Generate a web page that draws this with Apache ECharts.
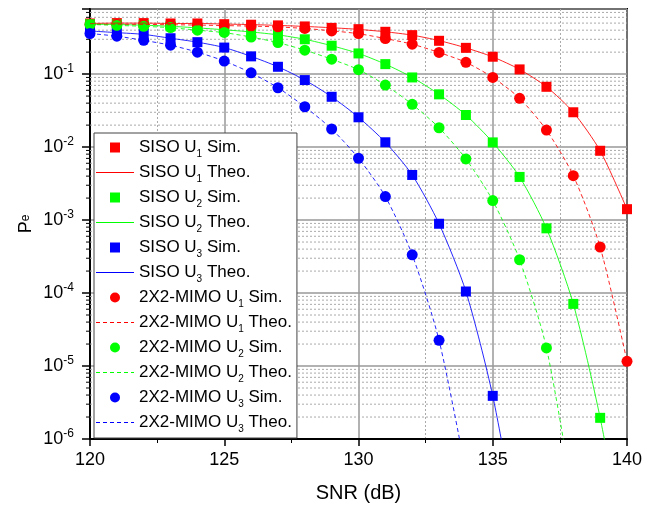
<!DOCTYPE html>
<html>
<head>
<meta charset="utf-8">
<script src="https://cdn.jsdelivr.net/npm/echarts@6/dist/echarts.min.js"></script>
<style>
    html, body { margin: 0; padding: 0; background: #fff; }
    #chart { width: 653px; height: 508px; }
</style>
</head>
<body>
<div id="chart"></div>
<script>
// SNR 轴
const snr = [120, 121, 122, 123, 124, 125, 126, 127, 128, 129, 130, 131, 132, 133, 134, 135, 136, 137, 138, 139, 140];

// SISO 仿真 / 理论
const siso1Sim = [0.494, 0.50, 0.50, 0.494, 0.494, 0.483, 0.475, 0.465, 0.45, 0.43, 0.413, 0.38, 0.342, 0.286, 0.229, 0.173, 0.116, 0.067, 0.030, 0.0089, 0.00141];
const siso1Theo = [0.494, 0.50, 0.50, 0.494, 0.494, 0.485, 0.477, 0.465, 0.45, 0.432, 0.41, 0.38, 0.342, 0.288, 0.229, 0.172, 0.116, 0.067, 0.030, 0.0089, 0.00141];
const siso2Sim = [0.483, 0.478, 0.468, 0.452, 0.43, 0.405, 0.378, 0.345, 0.30, 0.245, 0.192, 0.137, 0.090, 0.0528, 0.0275, 0.0116, 0.0039, 7.7e-4, 7.1e-5, 1.95e-6, null];
const siso2Theo = [0.483, 0.478, 0.468, 0.452, 0.43, 0.405, 0.378, 0.345, 0.30, 0.245, 0.192, 0.137, 0.090, 0.0528, 0.0275, 0.0116, 0.0039, 7.7e-4, 7.1e-5, 1.95e-6, 2e-8];
const siso3Sim = [0.39, 0.37, 0.356, 0.31, 0.274, 0.231, 0.175, 0.126, 0.0828, 0.0489, 0.0256, 0.01164, 0.00415, 8.9e-4, 1.05e-4, 3.9e-6, null, null, null, null, null];
const siso3Theo = [0.39, 0.37, 0.35, 0.31, 0.274, 0.231, 0.175, 0.126, 0.0828, 0.0489, 0.0256, 0.01164, 0.00415, 8.9e-4, 1.05e-4, 3.9e-6, 4e-8, null, null, null, null];

// 2X2-MIMO 仿真 / 理论
const mimo1Sim = [0.483, 0.483, 0.48, 0.475, 0.47, 0.462, 0.455, 0.445, 0.422, 0.39, 0.36, 0.307, 0.257, 0.198, 0.145, 0.090, 0.0466, 0.0171, 0.00406, 4.26e-4, 1.16e-5];
const mimo1Theo = [0.483, 0.483, 0.48, 0.475, 0.47, 0.462, 0.455, 0.443, 0.422, 0.392, 0.358, 0.307, 0.257, 0.198, 0.145, 0.090, 0.0466, 0.0171, 0.00406, 4.26e-4, 1.16e-5];
const mimo2Sim = [0.48, 0.465, 0.452, 0.435, 0.40, 0.372, 0.322, 0.27, 0.213, 0.16, 0.115, 0.0707, 0.0385, 0.0184, 0.00687, 0.00185, 2.86e-4, 1.77e-5, null, null, null];
const mimo2Theo = [0.48, 0.465, 0.452, 0.432, 0.40, 0.37, 0.322, 0.27, 0.213, 0.16, 0.115, 0.0707, 0.0385, 0.0184, 0.00687, 0.00185, 2.86e-4, 1.77e-5, 1.5e-7, null, null];
const mimo3Sim = [0.36, 0.331, 0.29, 0.249, 0.20, 0.151, 0.104, 0.065, 0.0357, 0.0177, 0.00703, 0.0021, 3.34e-4, 2.25e-5, null, null, null, null, null, null, null];
const mimo3Theo = [0.36, 0.331, 0.29, 0.249, 0.20, 0.151, 0.104, 0.065, 0.0357, 0.0177, 0.00703, 0.0021, 3.34e-4, 2.25e-5, 3.5e-7, null, null, null, null, null, null];

// 纵轴刻度(10 的幂)和次刻度倍数
const yDecades = [-6, -5, -4, -3, -2, -1];
const minorMultipliers = [2, 3, 4, 5, 6, 7, 8, 9];

const RED = '#ff0000', GREEN = '#00ff00', BLUE = '#0000ff';
const FONT = 'Liberation Sans, Arial, sans-serif';

// 图例图标:两侧的零面积三角形把包围盒撑到 38x10
const BOX = 'M0,0L0,10L0,0ZM38,0L38,10L38,0Z';
const ICON_SQUARE = 'path://' + BOX + 'M14,0h10v10h-10Z';
const ICON_SOLID = 'path://' + BOX + 'M0,4.5h38v1h-38Z';
const ICON_DASH = 'path://' + BOX + 'M0,4.5h4v1h-4ZM7,4.5h4v1h-4ZM14,4.5h4v1h-4ZM21,4.5h4v1h-4ZM28,4.5h4v1h-4ZM35,4.5h3v1h-3Z';

function pairs(vals) {
    return snr.map(function (x, i) { return [x, vals[i]]; });
}

// 对数轴次网格线的位置
let minorValues = [];
yDecades.forEach(function (d) {
    minorMultipliers.forEach(function (m) {
        let v = m * Math.pow(10, d);
        if (v < 0.78) minorValues.push([120, v]);
    });
});

function sim(name, vals, color, symbol) {
    return {
        name: name, type: 'scatter', data: pairs(vals),
        symbol: symbol, symbolSize: symbol === 'rect' ? 10 : 11,
        itemStyle: { color: color, opacity: 1 }
    };
}
function theo(name, vals, color, dashed) {
    return {
        name: name, type: 'line', data: pairs(vals),
        symbol: 'none', smooth: 0.25,
        lineStyle: { color: color, width: 1, type: dashed ? [4, 3] : 'solid', opacity: 0.85 },
        itemStyle: { color: color }
    };
}

const names = [
    'SISO U1 Sim.', 'SISO U1 Theo.', 'SISO U2 Sim.', 'SISO U2 Theo.', 'SISO U3 Sim.', 'SISO U3 Theo.',
    '2X2-MIMO U1 Sim.', '2X2-MIMO U1 Theo.', '2X2-MIMO U2 Sim.', '2X2-MIMO U2 Theo.', '2X2-MIMO U3 Sim.', '2X2-MIMO U3 Theo.'
];
const legendIcons = [
    ICON_SQUARE, ICON_SOLID, ICON_SQUARE, ICON_SOLID, ICON_SQUARE, ICON_SOLID,
    'circle', ICON_DASH, 'circle', ICON_DASH, 'circle', ICON_DASH
];

let myChart = echarts.init(document.getElementById('chart'));
let option = {
    backgroundColor: '#fff',
    animation: false,
    textStyle: { fontFamily: FONT },
    grid: {
        left: 90, right: 26, top: 9, bottom: 69,
        show: true, borderColor: '#000', borderWidth: 2
    },
    legend: {
        orient: 'vertical',
        left: 94, top: 133,
        data: names.map(function (n, i) {
            return { name: n, icon: legendIcons[i], itemStyle: { opacity: 1 } };
        }),
        selectedMode: false,
        itemWidth: 38, itemHeight: 10, itemGap: 5,
        padding: [6, 5, 4, 2],
        backgroundColor: '#fff',
        borderColor: '#444', borderWidth: 1, borderRadius: 0,
        formatter: function (name) {
            return name.replace(/^(.*U)(\d)(.*)$/, '{t|$1}{s|$2}{t|$3}');
        },
        textStyle: {
            color: '#000', fontSize: 17, fontFamily: FONT,
            rich: {
                t: { fontSize: 17, lineHeight: 23, color: '#000', fontFamily: FONT },
                s: { fontSize: 10, lineHeight: 6, verticalAlign: 'bottom', color: '#000', fontFamily: FONT }
            }
        }
    },
    xAxis: {
        type: 'value', min: 120, max: 140, interval: 5,
        axisLine: { lineStyle: { color: '#000', width: 2 } },
        axisTick: { show: true, length: 7, lineStyle: { color: '#000', width: 1.5 } },
        minorTick: { show: true, splitNumber: 2, length: 4, lineStyle: { color: '#000', width: 1 } },
        splitLine: { show: true, lineStyle: { color: '#999', width: 1.5 } },
        minorSplitLine: { show: true, lineStyle: { color: '#aaa', width: 1, type: [2, 2] } },
        axisLabel: { fontSize: 18, color: '#000', margin: 12, fontFamily: FONT },
        name: 'SNR (dB)', nameLocation: 'middle', nameGap: 44,
        nameTextStyle: { fontSize: 20, color: '#000', fontFamily: FONT }
    },
    yAxis: {
        type: 'log', min: 1e-6, max: 0.78,
        axisLine: { show: true, lineStyle: { color: '#000', width: 2 } },
        axisTick: { show: true, length: 8, lineStyle: { color: '#000', width: 1.5 } },
        splitLine: { show: true, lineStyle: { color: '#999', width: 1.5 } },
        axisLabel: {
            margin: 16,
            formatter: function (v) {
                let e = Math.log10(v);
                let r = Math.round(e);
                if (Math.abs(e - r) > 1e-6 || yDecades.indexOf(r) < 0) return '';
                return '{b|10}{s|' + r + '}';
            },
            rich: {
                b: { fontSize: 18, lineHeight: 22, color: '#000', fontFamily: FONT },
                s: { fontSize: 12, lineHeight: 10, verticalAlign: 'top', color: '#000', fontFamily: FONT }
            }
        },
        name: '{p|P}{e|e}', nameLocation: 'middle', nameGap: 53, nameMoveOverlap: false,
        nameTextStyle: {
            rich: {
                p: { fontSize: 18, lineHeight: 22, color: '#000', fontFamily: FONT },
                e: { fontSize: 12, lineHeight: 22, color: '#000', fontFamily: FONT }
            }
        }
    },
    series: [
        {
            // 次网格线和左侧次刻度
            type: 'custom', silent: true, z: 1,
            data: minorValues,
            renderItem: function (params, api) {
                let p = api.coord([120, api.value(1)]);
                let cs = params.coordSys;
                return {
                    type: 'group',
                    children: [
                        { type: 'line', shape: { x1: cs.x, y1: p[1], x2: cs.x + cs.width, y2: p[1] },
                          style: { stroke: '#aaa', lineWidth: 1, lineDash: [2, 2] } },
                        { type: 'line', shape: { x1: cs.x - 4, y1: p[1], x2: cs.x, y2: p[1] },
                          style: { stroke: '#000', lineWidth: 1 } }
                    ]
                };
            }
        },
        sim(names[0], siso1Sim, RED, 'rect'),
        theo(names[1], siso1Theo, RED, false),
        sim(names[2], siso2Sim, GREEN, 'rect'),
        theo(names[3], siso2Theo, GREEN, false),
        sim(names[4], siso3Sim, BLUE, 'rect'),
        theo(names[5], siso3Theo, BLUE, false),
        sim(names[6], mimo1Sim, RED, 'circle'),
        theo(names[7], mimo1Theo, RED, true),
        sim(names[8], mimo2Sim, GREEN, 'circle'),
        theo(names[9], mimo2Theo, GREEN, true),
        sim(names[10], mimo3Sim, BLUE, 'circle'),
        theo(names[11], mimo3Theo, BLUE, true)
    ]
};

myChart.setOption(option);
window.addEventListener('resize', function () {
    myChart.resize();
});
</script>
</body>
</html>
